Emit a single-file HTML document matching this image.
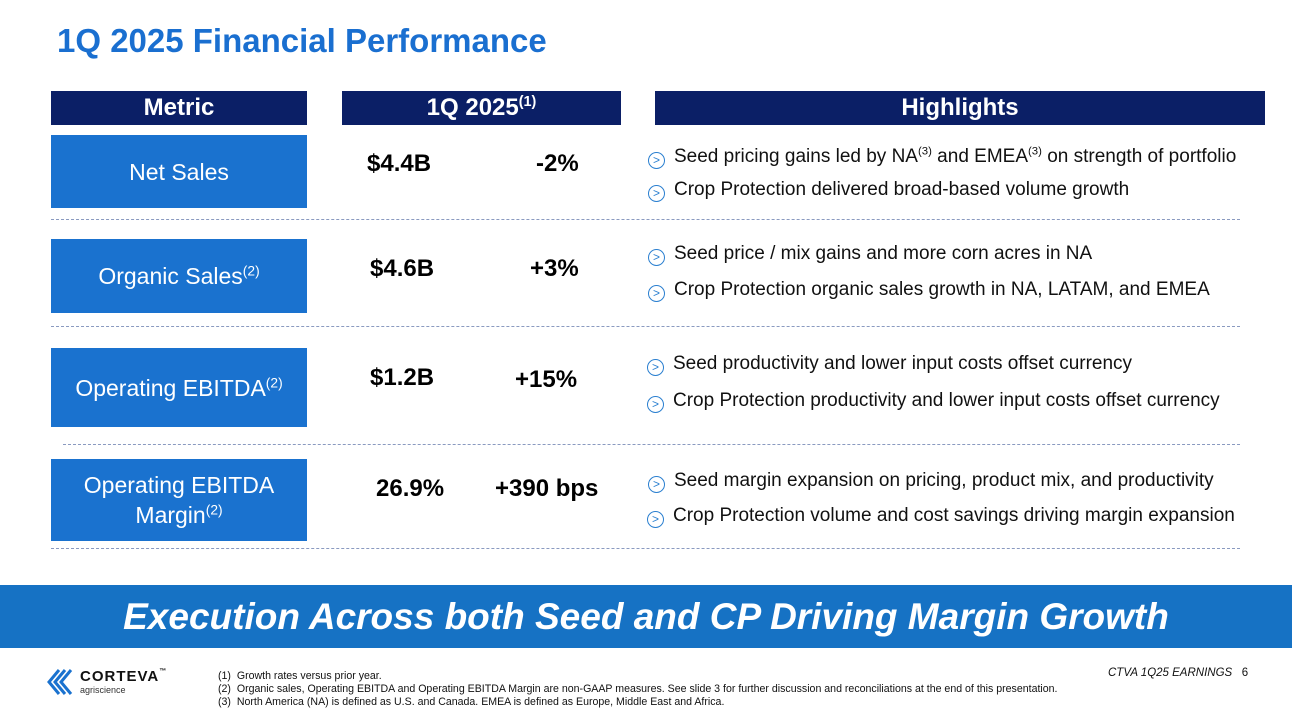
<!DOCTYPE html>
<html><head><meta charset="utf-8"><style>
body{margin:0;width:1292px;height:723px;position:relative;background:#fff;font-family:"Liberation Sans",sans-serif;overflow:hidden}
.a{position:absolute}
.hdr{position:absolute;background:#0b1f66;color:#fff;font-weight:bold;font-size:24px;text-align:center;line-height:34px;height:34px;top:91px}
.hdr sup{line-height:0}
.box{position:absolute;left:51px;width:256px;background:#1a72cf;color:#fff;font-size:23px;display:flex;align-items:center;justify-content:center;text-align:center;line-height:30px}
.val{position:absolute;font-weight:bold;font-size:24px;color:#000}
.hl{position:absolute;font-size:19px;color:#111;white-space:nowrap}
.ic{display:inline-block;width:15px;height:15px;border:1.5px solid #2a7fd0;border-radius:50%;color:#2a7fd0;font-size:12px;line-height:15px;text-align:center;margin-right:9px;vertical-align:-2px}
.dash{position:absolute;height:0;border-top:1.5px dashed #8a9ac0}
sup{font-size:60%;line-height:0}
.fn{position:absolute;left:218px;font-size:10.6px;color:#111}
</style></head><body>
<div class="a" style="left:57px;top:22px;font-size:33px;font-weight:bold;color:#1a6fd0">1Q 2025 Financial Performance</div>
<div class="hdr" style="left:51px;width:256px">Metric</div>
<div class="hdr" style="left:342px;width:279px">1Q 2025<sup>(1)</sup></div>
<div class="hdr" style="left:655px;width:610px">Highlights</div>

<div class="box" style="top:135px;height:73px"><span>Net Sales</span></div>
<div class="box" style="top:239px;height:74px"><span>Organic Sales<sup>(2)</sup></span></div>
<div class="box" style="top:348px;height:79px"><span>Operating EBITDA<sup>(2)</sup></span></div>
<div class="box" style="top:459px;height:82px"><span>Operating EBITDA<br>Margin<sup>(2)</sup></span></div>

<div class="val" style="left:367px;top:150px">$4.4B</div>
<div class="val" style="left:536px;top:150px">-2%</div>
<div class="val" style="left:370px;top:255px">$4.6B</div>
<div class="val" style="left:530px;top:255px">+3%</div>
<div class="val" style="left:370px;top:364px">$1.2B</div>
<div class="val" style="left:515px;top:366px">+15%</div>
<div class="val" style="left:376px;top:475px">26.9%</div>
<div class="val" style="left:495px;top:475px">+390 bps</div>

<div class="hl" style="left:648px;top:146px"><span class="ic">&gt;</span>Seed pricing gains led by NA<sup>(3)</sup> and EMEA<sup>(3)</sup> on strength of portfolio</div>
<div class="hl" style="left:648px;top:179px"><span class="ic">&gt;</span>Crop Protection delivered broad-based volume growth</div>
<div class="hl" style="left:648px;top:243px"><span class="ic">&gt;</span>Seed price / mix gains and more corn acres in NA</div>
<div class="hl" style="left:648px;top:279px"><span class="ic">&gt;</span>Crop Protection organic sales growth in NA, LATAM, and EMEA</div>
<div class="hl" style="left:647px;top:353px"><span class="ic">&gt;</span>Seed productivity and lower input costs offset currency</div>
<div class="hl" style="left:647px;top:390px"><span class="ic">&gt;</span>Crop Protection productivity and lower input costs offset currency</div>
<div class="hl" style="left:648px;top:470px"><span class="ic">&gt;</span>Seed margin expansion on pricing, product mix, and productivity</div>
<div class="hl" style="left:647px;top:505px"><span class="ic">&gt;</span>Crop Protection volume and cost savings driving margin expansion</div>

<div class="dash" style="left:51px;width:1189px;top:219px"></div>
<div class="dash" style="left:51px;width:1189px;top:326px"></div>
<div class="dash" style="left:63px;width:1177px;top:444px"></div>
<div class="dash" style="left:51px;width:1189px;top:548px"></div>

<div class="a" style="left:0;top:585px;width:1292px;height:63px;background:#1672c4;color:#fff;font-weight:bold;font-style:italic;font-size:37px;line-height:63px;text-align:center">Execution Across both Seed and CP Driving Margin Growth</div>

<div class="a" style="left:45px;top:668px">
<svg width="32" height="28" viewBox="0 0 32 28"><g fill="none" stroke="#1a72cf" stroke-width="3"><path d="M14 2 L4 14 L14 26"/><path d="M20 2 L10 14 L20 26"/><path d="M26 2 L16 14 L26 26"/></g></svg>
</div>
<div class="a" style="left:80px;top:668px;font-weight:bold;font-size:15px;letter-spacing:1px;color:#111">CORTEVA<span style="font-size:7px;vertical-align:top">™</span></div>
<div class="a" style="left:80px;top:685px;font-size:9px;color:#333">agriscience</div>

<div class="fn" style="top:670px">(1)&nbsp; Growth rates versus prior year.</div>
<div class="fn" style="top:683px">(2)&nbsp; Organic sales, Operating EBITDA and Operating EBITDA Margin are non-GAAP measures. See slide 3 for further discussion and reconciliations at the end of this presentation.</div>
<div class="fn" style="top:696px">(3)&nbsp; North America (NA) is defined as U.S. and Canada. EMEA is defined as Europe, Middle East and Africa.</div>
<div class="a" style="left:1108px;top:667px;font-size:11.5px;font-style:italic;color:#111">CTVA 1Q25 EARNINGS&nbsp;&nbsp;&nbsp;<span style="font-style:normal">6</span></div>
</body></html>
